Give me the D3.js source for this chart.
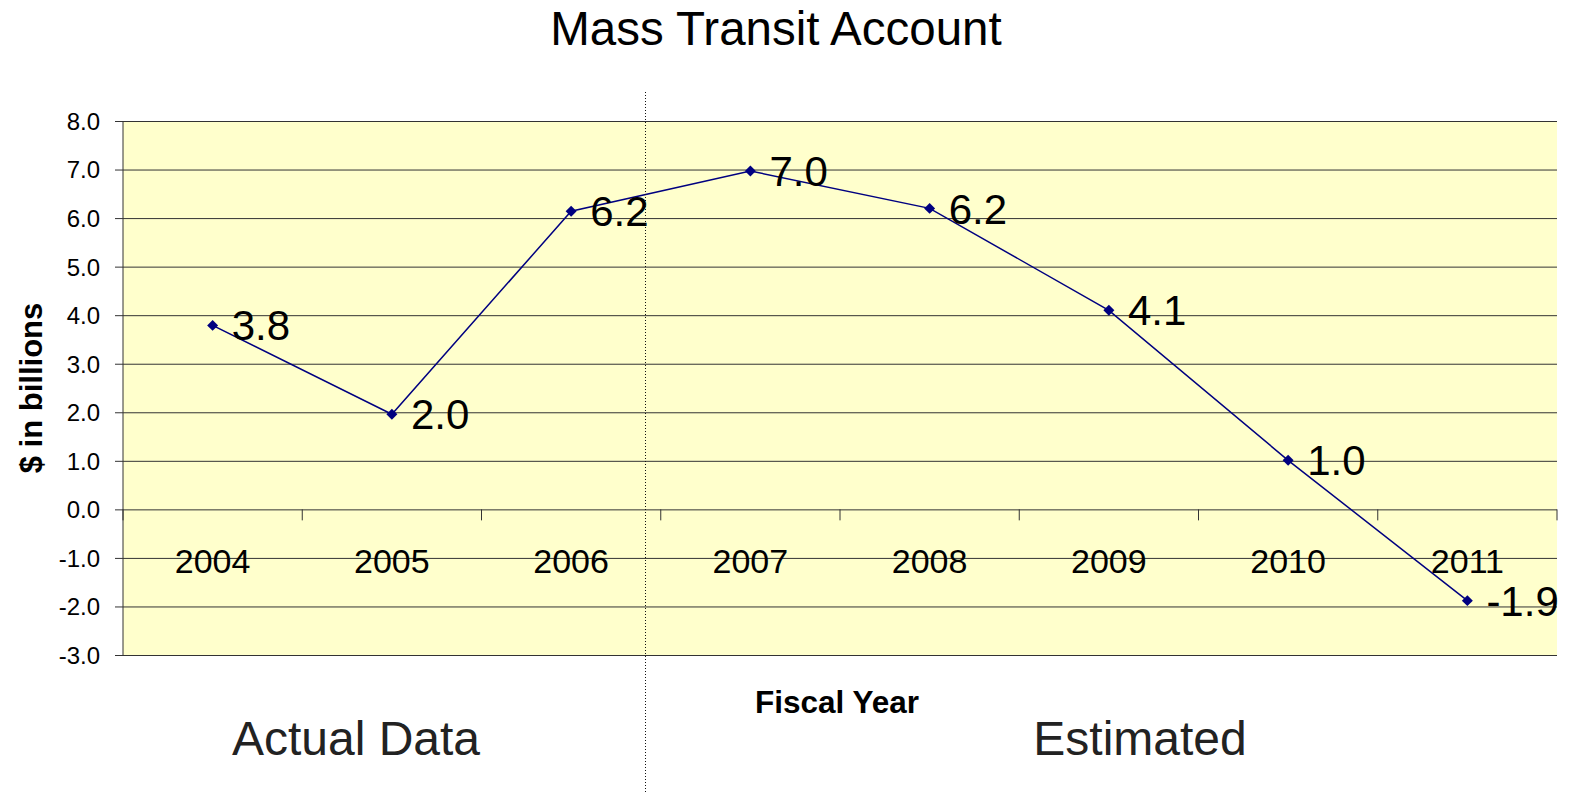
<!DOCTYPE html>
<html>
<head>
<meta charset="utf-8">
<script src="https://cdn.jsdelivr.net/npm/d3@7"></script>
<style>
  body { margin: 0; background: #fff; }
  svg { display: block; font-family: "Liberation Sans", Arial, sans-serif; }
</style>
</head>
<body>
<div class="chart"></div>
<script>
var years = ['2004', '2005', '2006', '2007', '2008', '2009', '2010', '2011'];
var balances = [3.79, 1.96, 6.14, 6.97, 6.2, 4.1, 1.01, -1.88];
var valueLabels = ['3.8', '2.0', '6.2', '7.0', '6.2', '4.1', '1.0', '-1.9'];
var yTicks = [-3, -2, -1, 0, 1, 2, 3, 4, 5, 6, 7, 8];

var width = 1572,
    height = 793,
    plotLeft = 123,
    plotRight = 1557,
    plotTop = 121,
    plotBottom = 655;

var svg = d3.select('.chart').append('svg')
  .attr('width', width)
  .attr('height', height);

var x = d3.scaleBand().domain(years).range([plotLeft, plotRight]).padding(0);
var y = d3.scaleLinear().domain([-3, 8]).range([plotBottom, plotTop]);

function cx(d) {
  return x(d.year) + x.bandwidth() / 2;
}

// plot background
svg.append('rect')
  .attr('x', plotLeft)
  .attr('y', plotTop)
  .attr('width', plotRight - plotLeft)
  .attr('height', plotBottom - plotTop)
  .attr('fill', '#ffffcc');

// horizontal gridlines + left axis (plain hyphen for negatives, like the original)
var yAxis = d3.axisLeft(y)
  .tickValues(yTicks)
  .tickSize(-(plotRight - plotLeft))
  .tickPadding(0)
  .tickFormat(function(d) { return d.toFixed(1); });

var gy = svg.append('g')
  .attr('transform', 'translate(' + plotLeft + ',0)')
  .call(yAxis);
gy.select('.domain').remove();
gy.selectAll('.tick line')
  .attr('x1', -8)
  .attr('stroke', '#333')
  .attr('stroke-width', 1);
gy.selectAll('.tick text')
  .attr('x', -23)
  .attr('dy', '0.35em')
  .attr('fill', '#000')
  .style('font-size', '24px')
  .style('font-family', '"Liberation Sans", Arial, sans-serif');

svg.append('line')
  .attr('x1', plotLeft).attr('x2', plotLeft)
  .attr('y1', plotTop).attr('y2', plotBottom)
  .attr('stroke', '#333')
  .attr('stroke-width', 1);

// category axis sitting on zero
var edges = years.map(function(d) { return x(d); }).concat([plotRight]);
svg.append('g').selectAll('line')
  .data(edges)
  .enter().append('line')
  .attr('x1', function(d) { return d; })
  .attr('x2', function(d) { return d; })
  .attr('y1', y(0))
  .attr('y2', y(0) + 11)
  .attr('stroke', '#333');

svg.append('g').selectAll('text')
  .data(years)
  .enter().append('text')
  .attr('x', function(d) { return x(d) + x.bandwidth() / 2; })
  .attr('y', 573)
  .attr('text-anchor', 'middle')
  .style('font-size', '34px')
  .text(function(d) { return d; });

// series line
var points = years.map(function(d, i) {
  return { year: d, value: balances[i], label: valueLabels[i] };
});
var line = d3.line()
  .x(cx)
  .y(function(d) { return y(d.value); });

svg.append('path')
  .datum(points)
  .attr('d', line)
  .attr('fill', 'none')
  .attr('stroke', '#000080')
  .attr('stroke-width', 1.5);

svg.append('g').selectAll('path')
  .data(points)
  .enter().append('path')
  .attr('d', d3.symbol().type(d3.symbolSquare).size(60))
  .attr('transform', function(d) {
    return 'translate(' + cx(d) + ',' + y(d.value) + ') rotate(45)';
  })
  .attr('fill', '#000080');

svg.append('g').selectAll('text')
  .data(points)
  .enter().append('text')
  .attr('x', function(d) { return cx(d) + 19; })
  .attr('y', function(d) { return y(d.value); })
  .attr('dy', '0.36em')
  .style('font-size', '42px')
  .text(function(d) { return d.label; });

// divider between actual and estimated
svg.append('line')
  .attr('x1', 645.5).attr('x2', 645.5)
  .attr('y1', 92).attr('y2', height)
  .attr('stroke', '#111')
  .attr('stroke-width', 1)
  .attr('stroke-dasharray', '1,2');

// titles
svg.append('text')
  .attr('x', 776)
  .attr('y', 45)
  .attr('text-anchor', 'middle')
  .style('font-size', '47.5px')
  .text('Mass Transit Account');

svg.append('text')
  .attr('x', 837)
  .attr('y', 713)
  .attr('text-anchor', 'middle')
  .style('font-size', '31.5px')
  .style('font-weight', 'bold')
  .text('Fiscal Year');

svg.append('text')
  .attr('transform', 'translate(42,388) rotate(-90)')
  .attr('text-anchor', 'middle')
  .style('font-size', '31px')
  .style('font-weight', 'bold')
  .text('$ in billions');

svg.append('text')
  .attr('x', 356)
  .attr('y', 755)
  .attr('text-anchor', 'middle')
  .attr('fill', '#222')
  .style('font-size', '48px')
  .text('Actual Data');

svg.append('text')
  .attr('x', 1140)
  .attr('y', 755)
  .attr('text-anchor', 'middle')
  .attr('fill', '#222')
  .style('font-size', '48px')
  .text('Estimated');
</script>
</body>
</html>
